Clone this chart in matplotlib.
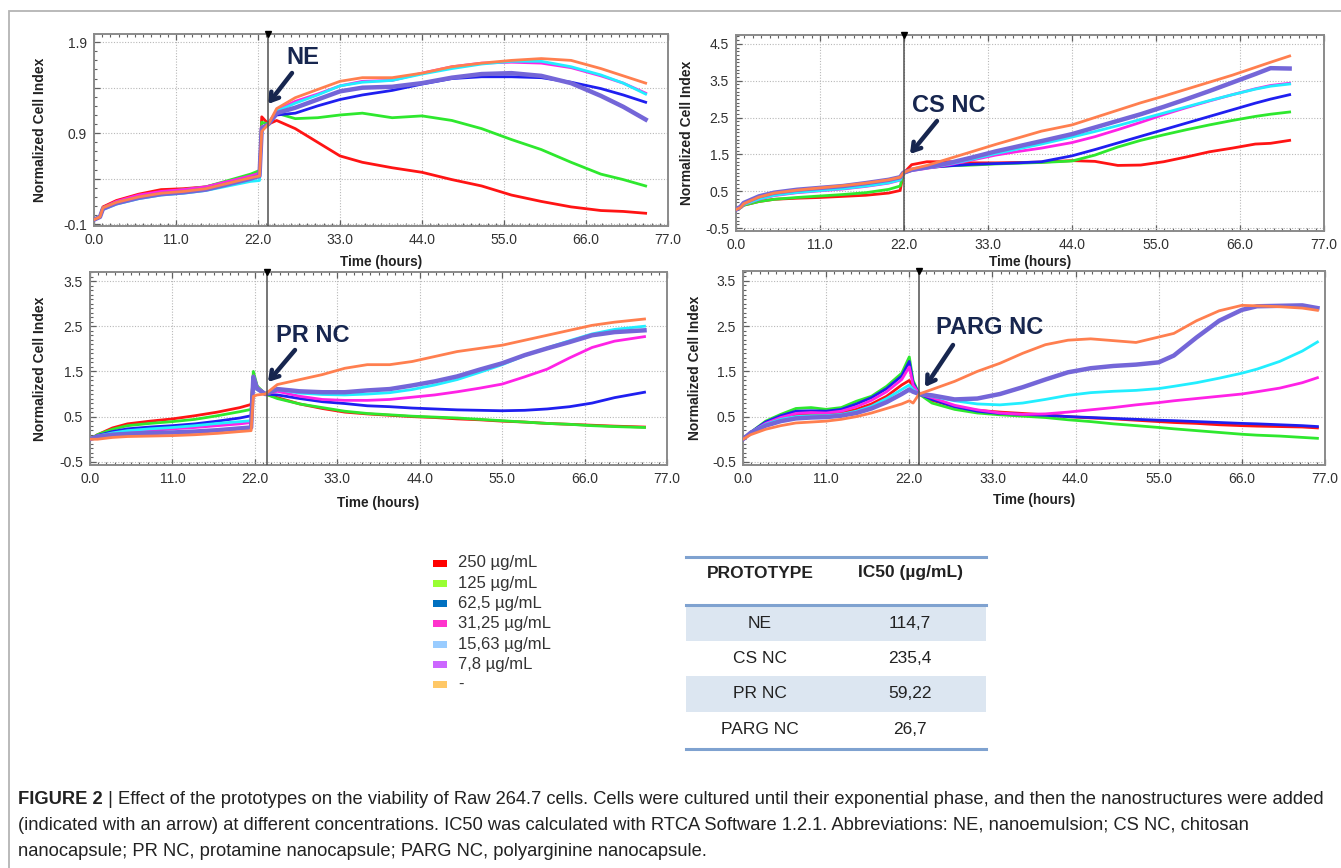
import matplotlib.pyplot as plt
from matplotlib.patches import Rectangle
from matplotlib.ticker import MultipleLocator, FixedLocator

W, H = 1341, 868

# ---- data (time in hours, normalized cell index) ----
# NE
ne_t = [0, 0.8, 1.2, 3, 6, 9, 12, 15, 18, 21, 22.2, 22.5, 23.4,
        24.5, 27, 30, 33, 36, 40, 44, 48, 52, 56, 60, 64, 68, 71, 74]
ne_250 = [-0.05, -0.02, 0.09, 0.16, 0.23, 0.28, 0.29, 0.31, 0.37, 0.44, 0.47, 1.08, 1.0,
          1.04, 0.95, 0.80, 0.65, 0.58, 0.52, 0.47, 0.39, 0.32, 0.22, 0.15, 0.09, 0.05, 0.04, 0.02]
ne_125 = [-0.05, -0.02, 0.08, 0.14, 0.21, 0.25, 0.28, 0.31, 0.38, 0.45, 0.49, 1.02, 1.0,
          1.12, 1.06, 1.07, 1.10, 1.12, 1.07, 1.09, 1.04, 0.95, 0.83, 0.72, 0.58, 0.45, 0.39, 0.32]
ne_62 = [-0.05, -0.02, 0.07, 0.13, 0.19, 0.23, 0.26, 0.29, 0.35, 0.41, 0.44, 0.95, 1.0,
         1.10, 1.12, 1.20, 1.27, 1.32, 1.37, 1.44, 1.50, 1.52, 1.52, 1.51, 1.46, 1.39, 1.32, 1.24]
ne_31 = [-0.05, -0.02, 0.08, 0.15, 0.22, 0.26, 0.28, 0.31, 0.37, 0.43, 0.46, 0.97, 1.0,
         1.15, 1.25, 1.33, 1.42, 1.47, 1.48, 1.56, 1.63, 1.67, 1.68, 1.67, 1.62, 1.53, 1.45, 1.34]
ne_15 = [-0.05, -0.02, 0.06, 0.12, 0.18, 0.22, 0.24, 0.27, 0.32, 0.37, 0.38, 0.93, 1.0,
         1.14, 1.23, 1.32, 1.42, 1.46, 1.48, 1.55, 1.61, 1.66, 1.69, 1.69, 1.63, 1.54, 1.45, 1.33]
ne_7 = [-0.05, -0.02, 0.07, 0.13, 0.19, 0.23, 0.25, 0.28, 0.34, 0.40, 0.43, 0.95, 1.0,
        1.12, 1.18, 1.27, 1.36, 1.40, 1.41, 1.45, 1.51, 1.55, 1.56, 1.53, 1.45, 1.31, 1.19, 1.05]
ne_ctrl = [-0.05, -0.02, 0.08, 0.14, 0.20, 0.24, 0.26, 0.29, 0.35, 0.41, 0.43, 0.92, 1.0,
           1.17, 1.29, 1.38, 1.47, 1.51, 1.51, 1.56, 1.63, 1.67, 1.70, 1.72, 1.70, 1.61, 1.53, 1.45]

# CS NC
cs_t = [0, 0.6, 1, 3, 5, 8, 11, 14, 17, 20, 21.5, 21.9,
        23, 25, 28, 31, 34, 37, 40, 44, 47, 50, 53, 56, 59, 62, 65, 68, 70, 72.5]
cs_250 = [0.0, 0.05, 0.12, 0.22, 0.28, 0.31, 0.33, 0.36, 0.39, 0.45, 0.52, 0.98,
          1.22, 1.30, 1.30, 1.27, 1.27, 1.28, 1.29, 1.33, 1.31, 1.20, 1.21, 1.30, 1.43, 1.57, 1.67, 1.78, 1.80, 1.88]
cs_125 = [0.0, 0.05, 0.12, 0.22, 0.28, 0.33, 0.37, 0.41, 0.46, 0.55, 0.64, 0.98,
          1.07, 1.14, 1.19, 1.21, 1.24, 1.26, 1.28, 1.32, 1.48, 1.70, 1.88, 2.03, 2.17, 2.30, 2.42, 2.53, 2.59, 2.65]
cs_62 = [0.0, 0.08, 0.16, 0.33, 0.44, 0.52, 0.57, 0.62, 0.69, 0.78, 0.85, 1.0,
         1.08, 1.14, 1.19, 1.23, 1.25, 1.27, 1.30, 1.46, 1.63, 1.81, 1.99, 2.17, 2.35, 2.53, 2.71, 2.89, 3.00, 3.12]
cs_31 = [0.0, 0.06, 0.14, 0.28, 0.38, 0.46, 0.51, 0.56, 0.63, 0.72, 0.80, 1.0,
         1.06, 1.12, 1.22, 1.35, 1.48, 1.58, 1.67, 1.82, 1.98, 2.17, 2.37, 2.58, 2.77, 2.95, 3.12, 3.28, 3.37, 3.43]
cs_15 = [0.0, 0.06, 0.14, 0.29, 0.39, 0.47, 0.52, 0.57, 0.64, 0.73, 0.81, 1.0,
         1.07, 1.13, 1.24, 1.37, 1.52, 1.65, 1.78, 1.97, 2.12, 2.28, 2.45, 2.62, 2.79, 2.96, 3.12, 3.27, 3.35, 3.41]
cs_7 = [0.0, 0.08, 0.18, 0.36, 0.46, 0.54, 0.59, 0.64, 0.72, 0.81, 0.88, 1.0,
        1.08, 1.15, 1.27, 1.42, 1.58, 1.72, 1.86, 2.05, 2.23, 2.41, 2.59, 2.79, 3.00, 3.22, 3.45, 3.68, 3.84, 3.83]
cs_ctrl = [0.0, 0.06, 0.16, 0.34, 0.45, 0.53, 0.59, 0.65, 0.72, 0.81, 0.88, 1.0,
           1.10, 1.20, 1.39, 1.58, 1.77, 1.95, 2.13, 2.30, 2.50, 2.70, 2.90, 3.08, 3.27, 3.46, 3.65, 3.86, 4.00, 4.17]

# PR NC
pr_t = [0, 1, 3, 5, 8, 11, 14, 17, 20, 21.5, 21.8, 22.3, 23.4,
        25, 28, 31, 34, 37, 40, 43, 46, 49, 52, 55, 58, 61, 64, 67, 70, 74]
pr_250 = [0.0, 0.10, 0.25, 0.34, 0.40, 0.45, 0.52, 0.60, 0.70, 0.77, 1.42, 1.15, 1.0,
          0.92, 0.78, 0.68, 0.60, 0.56, 0.53, 0.50, 0.48, 0.45, 0.43, 0.40, 0.38, 0.35, 0.33, 0.31, 0.29, 0.27]
pr_125 = [0.0, 0.10, 0.22, 0.30, 0.35, 0.39, 0.44, 0.52, 0.61, 0.66, 1.50, 1.18, 1.0,
          0.90, 0.78, 0.70, 0.62, 0.57, 0.54, 0.51, 0.49, 0.47, 0.44, 0.41, 0.38, 0.35, 0.33, 0.30, 0.28, 0.26]
pr_62 = [0.0, 0.08, 0.17, 0.23, 0.27, 0.30, 0.34, 0.40, 0.47, 0.52, 1.35, 1.12, 1.0,
         0.98, 0.90, 0.83, 0.79, 0.74, 0.72, 0.69, 0.67, 0.65, 0.64, 0.63, 0.64, 0.67, 0.72, 0.80, 0.92, 1.04]
pr_31 = [0.0, 0.07, 0.12, 0.15, 0.19, 0.23, 0.26, 0.30, 0.34, 0.37, 1.40, 1.15, 1.0,
         1.06, 0.95, 0.88, 0.86, 0.86, 0.88, 0.93, 0.98, 1.05, 1.13, 1.22, 1.38, 1.55, 1.80, 2.03, 2.17, 2.27]
pr_15 = [0.0, 0.07, 0.14, 0.19, 0.23, 0.26, 0.30, 0.35, 0.39, 0.41, 1.30, 1.10, 1.0,
         1.10, 1.02, 0.99, 0.98, 1.00, 1.03, 1.10, 1.20, 1.32, 1.48, 1.65, 1.85, 2.02, 2.18, 2.33, 2.43, 2.50]
pr_7 = [0.0, 0.06, 0.10, 0.12, 0.14, 0.15, 0.17, 0.20, 0.24, 0.26, 1.38, 1.12, 1.0,
        1.11, 1.06, 1.04, 1.04, 1.08, 1.11, 1.19, 1.28, 1.39, 1.54, 1.68, 1.86, 2.01, 2.15, 2.30, 2.37, 2.41]
pr_ctrl = [0.0, 0.0, 0.04, 0.06, 0.07, 0.08, 0.10, 0.13, 0.17, 0.19, 0.95, 0.98, 1.0,
           1.21, 1.32, 1.43, 1.57, 1.65, 1.65, 1.72, 1.83, 1.94, 2.01, 2.08, 2.19, 2.30, 2.41, 2.52, 2.59, 2.66]

# PARG NC
parg_t = [0, 1, 3, 5, 7, 9, 11, 13, 15, 17, 19, 21, 22, 22.5, 23.3,
          25, 28, 31, 34, 37, 40, 43, 46, 49, 52, 55, 57, 60, 63, 66, 68, 71, 74, 76]
parg_250 = [0.0, 0.15, 0.34, 0.46, 0.53, 0.55, 0.55, 0.58, 0.66, 0.78, 0.95, 1.20, 1.30, 1.15, 1.0,
            0.86, 0.72, 0.64, 0.60, 0.57, 0.54, 0.50, 0.47, 0.45, 0.42, 0.39, 0.37, 0.35, 0.32, 0.30, 0.29, 0.28, 0.27, 0.25]
parg_125 = [0.0, 0.15, 0.40, 0.55, 0.68, 0.70, 0.66, 0.70, 0.84, 0.95, 1.17, 1.46, 1.82, 1.30, 1.0,
            0.80, 0.66, 0.58, 0.54, 0.51, 0.48, 0.43, 0.39, 0.34, 0.30, 0.26, 0.23, 0.19, 0.15, 0.11, 0.09, 0.07, 0.04, 0.02]
parg_62 = [0.0, 0.15, 0.38, 0.52, 0.62, 0.63, 0.62, 0.66, 0.78, 0.92, 1.12, 1.40, 1.72, 1.25, 1.0,
           0.88, 0.72, 0.62, 0.57, 0.55, 0.53, 0.50, 0.48, 0.46, 0.44, 0.42, 0.41, 0.39, 0.37, 0.35, 0.34, 0.32, 0.30, 0.28]
parg_31 = [0.0, 0.15, 0.35, 0.48, 0.57, 0.59, 0.58, 0.62, 0.72, 0.86, 1.05, 1.32, 1.60, 1.20, 1.0,
           0.92, 0.75, 0.65, 0.58, 0.55, 0.56, 0.60, 0.65, 0.70, 0.76, 0.81, 0.85, 0.90, 0.95, 1.00, 1.05, 1.13, 1.25, 1.36]
parg_15 = [0.0, 0.15, 0.33, 0.44, 0.50, 0.52, 0.52, 0.55, 0.62, 0.73, 0.90, 1.10, 1.20, 1.10, 1.0,
           0.95, 0.85, 0.78, 0.76, 0.80, 0.88, 0.97, 1.03, 1.06, 1.08, 1.12, 1.17, 1.25, 1.35, 1.46, 1.55, 1.72, 1.95, 2.15]
parg_7 = [0.0, 0.14, 0.30, 0.40, 0.46, 0.48, 0.49, 0.52, 0.58, 0.68, 0.82, 1.00, 1.10, 1.05, 1.0,
          0.97, 0.88, 0.90, 1.00, 1.15, 1.32, 1.48, 1.57, 1.62, 1.65, 1.70, 1.85, 2.25, 2.62, 2.86, 2.94, 2.95, 2.96, 2.90]
parg_ctrl = [0.0, 0.10, 0.22, 0.30, 0.36, 0.38, 0.40, 0.44, 0.50, 0.58, 0.68, 0.78, 0.85, 0.80, 1.0,
             1.10, 1.28, 1.50, 1.68, 1.90, 2.09, 2.19, 2.22, 2.18, 2.14, 2.26, 2.34, 2.62, 2.84, 2.96, 2.95, 2.93, 2.90, 2.85]

conc_labels = ["250 µg/mL", "125 µg/mL", "62,5 µg/mL", "31,25 µg/mL",
               "15,63 µg/mL", "7,8 µg/mL", "-"]
key_colors = ["#ff0000", "#99ff33", "#0070c0", "#ff33cc", "#99ccff", "#cc66ff", "#ffc866"]
line_colors = ["#ff1414", "#2ee82e", "#1f1ff0", "#ff22e6", "#22eeff", "#7466d8", "#ff7f4f"]

prototypes = ["NE", "CS NC", "PR NC", "PARG NC"]
ic50 = ["114,7", "235,4", "59,22", "26,7"]

caption = [
    "Effect of the prototypes on the viability of Raw 264.7 cells. Cells were cultured until their exponential phase, and then the nanostructures were added",
    "(indicated with an arrow) at different concentrations. IC50 was calculated with RTCA Software 1.2.1. Abbreviations: NE, nanoemulsion; CS NC, chitosan",
    "nanocapsule; PR NC, protamine nanocapsule; PARG NC, polyarginine nanocapsule.",
]

# ---- layout helpers (pixel positions) ----
def fx(x):
    return x / W

def fy(y):
    return 1 - y / H

NARROW = ["Liberation Sans Narrow", "Liberation Sans", "DejaVu Sans"]
SANS = ["Liberation Sans", "DejaVu Sans"]
NAVY = "#17264f"
TXT = "#222222"

panels = [
    dict(t=ne_t, ys=[ne_250, ne_125, ne_62, ne_31, ne_15, ne_7, ne_ctrl], box=(94, 34, 668, 226),
         ylim=(-0.12, 1.99), yticks=[-0.1, 0.4, 0.9, 1.4, 1.9], ylab=["-0.1", "", "0.9", "", "1.9"],
         treat=23.4, name="NE", txt=(303, 58), arrow=((292, 73), (268, 104)), ylx=40, xly=262),
    dict(t=cs_t, ys=[cs_250, cs_125, cs_62, cs_31, cs_15, cs_7, cs_ctrl], box=(736, 35, 1324, 231),
         ylim=(-0.58, 4.74), yticks=[-0.5, 0.5, 1.5, 2.5, 3.5, 4.5], ylab=None,
         treat=22.0, name="CS NC", txt=(949, 106), arrow=((937, 121), (910, 154)), ylx=687, xly=262),
    dict(t=pr_t, ys=[pr_250, pr_125, pr_62, pr_31, pr_15, pr_7, pr_ctrl], box=(90, 272, 667, 465),
         ylim=(-0.57, 3.70), yticks=[-0.5, 0.5, 1.5, 2.5, 3.5], ylab=None,
         treat=23.6, name="PR NC", txt=(313, 335), arrow=((295, 350), (268, 382)), ylx=40, xly=503),
    dict(t=parg_t, ys=[parg_250, parg_125, parg_62, parg_31, parg_15, parg_7, parg_ctrl], box=(743, 271, 1325, 465),
         ylim=(-0.57, 3.72), yticks=[-0.5, 0.5, 1.5, 2.5, 3.5], ylab=None,
         treat=23.3, name="PARG NC", txt=(990, 328), arrow=((953, 345), (925, 387)), ylx=695, xly=500),
]

fig = plt.figure(figsize=(W / 100, H / 100), dpi=100)

# outer light frame
fig.patches.append(Rectangle((fx(9), fy(H + 5)), (W + 5) / W, (H - 6) / H, transform=fig.transFigure,
                             fill=False, ec="#b4b4b4", lw=1.3))

for p in panels:
    l, t, r, b = p["box"]
    ax = fig.add_axes([fx(l), fy(b), (r - l) / W, (b - t) / H])
    for i, y in enumerate(p["ys"]):
        ax.plot(p["t"], y, color=line_colors[i], lw=3.2 if i == 5 else 2.0, zorder=3 + i * 0.1)
    ax.axvline(p["treat"], color="#505050", lw=1.1, zorder=5)
    ax.plot([p["treat"]], [1.0], transform=ax.get_xaxis_transform(), marker="v", ms=4.5,
            color="black", clip_on=False, zorder=6)
    ax.set_xlim(0, 77)
    ax.set_ylim(*p["ylim"])
    ax.set_xticks([0, 11, 22, 33, 44, 55, 66, 77])
    ax.set_xticklabels(["0.0", "11.0", "22.0", "33.0", "44.0", "55.0", "66.0", "77.0"])
    ax.xaxis.set_minor_locator(MultipleLocator(1.1))
    ax.yaxis.set_major_locator(FixedLocator(p["yticks"]))
    ax.yaxis.set_minor_locator(MultipleLocator(0.1))
    if p["ylab"]:
        ax.set_yticklabels(p["ylab"])
    else:
        ax.set_yticklabels(["%.1f" % v for v in p["yticks"]])
    ax.grid(True, which="major", color="#b8b8b8", ls=(0, (1, 1.5)), lw=0.8)
    ax.tick_params(which="both", direction="in", top=True, right=False, color="#606060",
                   labelsize=10, labelcolor="#303030", pad=5)
    ax.tick_params(which="major", length=4, width=0.9)
    ax.tick_params(which="minor", length=2.5, width=0.8)
    for lab in ax.get_xticklabels() + ax.get_yticklabels():
        lab.set_family(NARROW)
    for s in ax.spines.values():
        s.set_color("#8a8a8a")
        s.set_linewidth(1.4)
    ax.set_xlabel("Time (hours)", fontsize=9.8, fontweight="bold", family=SANS, color=TXT)
    ax.xaxis.set_label_coords(fx((l + r) / 2), fy(p["xly"]), transform=fig.transFigure)
    ax.xaxis.label.set_va("center")
    ax.set_ylabel("Normalized Cell Index", fontsize=10, fontweight="bold", family=SANS, color=TXT)
    ax.yaxis.set_label_coords(fx(p["ylx"]), fy((t + b) / 2), transform=fig.transFigure)
    ax.yaxis.label.set_va("center")

    (x0, y0), (x1, y1) = p["arrow"]
    fig.text(fx(p["txt"][0]), fy(p["txt"][1]), p["name"], ha="center", va="center",
             fontsize=17, fontweight="bold", color=NAVY, family=SANS)
    ax.annotate("", xy=(x1, H - y1), xycoords="figure pixels", xytext=(x0, H - y0),
                textcoords="figure pixels",
                arrowprops=dict(arrowstyle="->,head_length=0.55,head_width=0.35", lw=3.2,
                                color=NAVY, shrinkA=0, shrinkB=0))

# concentration key
for i, (c, lab) in enumerate(zip(key_colors, conc_labels)):
    yy = 563 + i * 20.3
    fig.patches.append(Rectangle((fx(433), fy(yy + 3.5)), 14 / W, 7 / H, transform=fig.transFigure,
                                 fc=c, ec="none"))
    fig.text(fx(458), fy(yy), lab, fontsize=12, color="#333333", va="center", ha="left", family=SANS)

# IC50 table
tl, tr = 686, 986
rows_y = [605, 641, 676, 712, 748]
for i in range(4):
    if i % 2 == 0:
        fig.patches.append(Rectangle((fx(tl), fy(rows_y[i + 1])), (tr - tl) / W,
                                     (rows_y[i + 1] - rows_y[i]) / H, transform=fig.transFigure,
                                     fc="#dce6f1", ec="none"))
    yc = (rows_y[i] + rows_y[i + 1]) / 2
    fig.text(fx(760), fy(yc), prototypes[i], fontsize=12.5, ha="center", va="center", color=TXT, family=SANS)
    fig.text(fx(910), fy(yc), ic50[i], fontsize=12.5, ha="center", va="center", color=TXT, family=SANS)
for yy in [557, 605, 749]:
    fig.add_artist(plt.Line2D([fx(tl), fx(tr)], [fy(yy), fy(yy)], transform=fig.transFigure,
                              color="#7fa2d0", lw=2.2))
fig.text(fx(760), fy(573), "PROTOTYPE", fontsize=12.5, fontweight="bold", ha="center", va="center",
         color=TXT, family=SANS)
fig.text(fx(910), fy(573), "IC50 (µg/mL)", fontsize=12.5, fontweight="bold", ha="center", va="center",
         color=TXT, family=SANS)

# caption
CAP = 13.28
bold = fig.text(fx(18), fy(800), "FIGURE 2", fontsize=CAP, fontweight="bold", va="center", ha="left",
                color=TXT, family=NARROW)
fig.add_artist(plt.Annotation(" | " + caption[0], xy=(1, 0.5), xycoords=bold, va="center", ha="left",
                              fontsize=CAP, color=TXT, family=NARROW, annotation_clip=False))
fig.text(fx(18), fy(826), caption[1], fontsize=CAP, va="center", ha="left", color=TXT, family=NARROW)
fig.text(fx(18), fy(851), caption[2], fontsize=CAP, va="center", ha="left", color=TXT, family=NARROW)

fig.savefig("out.png", dpi=100)
